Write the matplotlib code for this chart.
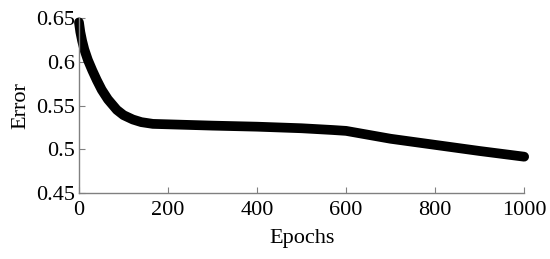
import matplotlib
matplotlib.use("Agg")
import matplotlib.pyplot as plt

epochs = [0, 3, 7, 12, 20, 30, 40, 51, 65, 85, 100, 121, 140, 166, 200, 300, 400, 500, 570, 600, 650, 700, 800, 900, 1000]
error = [0.645, 0.634, 0.624, 0.614, 0.602, 0.590, 0.579, 0.568, 0.557, 0.545, 0.539, 0.534, 0.531, 0.529, 0.5285, 0.527, 0.5258, 0.524, 0.522, 0.521, 0.5165, 0.512, 0.505, 0.498, 0.4915]
xticks = [0, 200, 400, 600, 800, 1000]
yticks = [0.45, 0.5, 0.55, 0.6, 0.65]
yticklabels = ["0.45", "0.5", "0.55", "0.6", "0.65"]

plt.rcParams['font.family'] = ['Liberation Serif']
fig = plt.figure(figsize=(5.5, 2.59), dpi=100)
ax = fig.add_axes([0.1436, 0.2548, 0.8094, 0.6757])
ax.plot(epochs, error, color='black', linewidth=7, solid_capstyle='round',
        solid_joinstyle='round', clip_on=False)
ax.set_xlim(0, 1000)
ax.set_ylim(0.45, 0.65)
ax.set_xticks(xticks)
ax.set_yticks(yticks)
ax.set_yticklabels(yticklabels)
for s in ['top', 'right']:
    ax.spines[s].set_visible(False)
for s in ['left', 'bottom']:
    ax.spines[s].set_color('#808080')
    ax.spines[s].set_linewidth(1)
ax.tick_params(direction='in', length=4, color='#808080', labelsize=16)
ax.tick_params(axis='x', pad=6)
ax.tick_params(axis='y', pad=3)
ax.set_xlabel('Epochs', fontsize=16, labelpad=6)
ax.set_ylabel('Error', fontsize=16, labelpad=4)
fig.savefig('out.png', dpi=100)
